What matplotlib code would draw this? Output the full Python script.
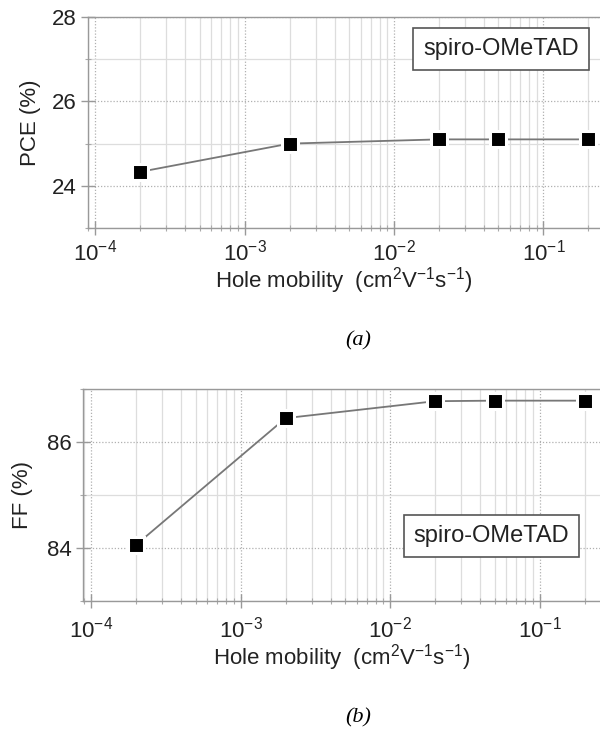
import numpy as np
import matplotlib
matplotlib.use("Agg")
import matplotlib.pyplot as plt
from matplotlib.ticker import MultipleLocator, LogLocator, NullFormatter

plt.rcParams['font.family'] = ['Liberation Sans', 'DejaVu Sans']
plt.rcParams['mathtext.fontset'] = 'custom'
plt.rcParams['mathtext.rm'] = 'Liberation Sans'
plt.rcParams['mathtext.it'] = 'Liberation Sans:italic'
plt.rcParams['axes.unicode_minus'] = False

# hole mobility (cm2 V-1 s-1)
mobility = [2e-4, 2e-3, 2e-2, 5e-2, 2e-1]
pce = [24.33, 25.0, 25.1, 25.1, 25.1]
ff = [84.06, 86.45, 86.77, 86.78, 86.78]

xlabel = "Hole mobility  (cm$^2$V$^{-1}$s$^{-1}$)"
legend_text = "spiro-OMeTAD"

fig = plt.figure(figsize=(6, 7.44), dpi=100)

# pixel geometry of the two panels
ax1 = fig.add_axes([88 / 600, (744 - 228) / 744, 512 / 600, 211 / 744])
ax2 = fig.add_axes([83 / 600, (744 - 601) / 744, 517 / 600, 212 / 744])


def style_axis(ax, xlim, ylim, xpad):
    ax.set_xscale('log')
    ax.set_xlim(*xlim)
    ax.set_ylim(*ylim)
    ax.xaxis.set_major_locator(LogLocator(base=10, numticks=10))
    ax.xaxis.set_minor_locator(LogLocator(base=10, subs=np.arange(2, 10), numticks=20))
    ax.xaxis.set_minor_formatter(NullFormatter())
    ax.yaxis.set_major_locator(MultipleLocator(2))
    ax.yaxis.set_minor_locator(MultipleLocator(1))
    ax.grid(which='major', color='#b0b0b0', linestyle=(0, (1, 1.5)), linewidth=0.9)
    ax.grid(which='minor', color='#dddddd', linestyle='-', linewidth=0.9)
    ax.set_axisbelow(True)
    for s in ['left', 'bottom', 'top']:
        ax.spines[s].set_color('#999999')
        ax.spines[s].set_linewidth(1.0)
    ax.spines['right'].set_visible(False)
    ax.tick_params(which='major', direction='inout', length=10, width=1,
                   color='#999999', labelsize=16, labelcolor='#222222', pad=3)
    ax.tick_params(which='minor', direction='inout', length=5, width=0.8,
                   color='#aaaaaa')
    ax.tick_params(axis='x', which='major', pad=xpad)
    ax.tick_params(axis='y', which='both', right=False)


def draw(ax, y):
    ax.plot(mobility, y, color='#777777', linewidth=1.3, zorder=3)
    ax.plot(mobility, y, linestyle='none', marker='s', markersize=11.5,
            markerfacecolor='black', markeredgecolor='white',
            markeredgewidth=2.2, zorder=4)


style_axis(ax1, (10 ** -4.047, 10 ** -0.622), (23, 28), 3)
draw(ax1, pce)
ax1.set_ylabel("PCE (%)", fontsize=16, color='#222222', labelpad=8)
ax1.set_xlabel(xlabel, fontsize=16, color='#222222', labelpad=0)
ax1.text(0.807, 0.848, legend_text, transform=ax1.transAxes, fontsize=17,
         ha='center', va='center', color='#222222',
         bbox=dict(boxstyle='square,pad=0.42', facecolor='white',
                   edgecolor='#555555', linewidth=1.2))

style_axis(ax2, (10 ** -4.054, 10 ** -0.596), (83, 87), 6)
draw(ax2, ff)
ax2.set_ylabel("FF (%)", fontsize=16, color='#222222', labelpad=10)
ax2.set_xlabel(xlabel, fontsize=16, color='#222222', labelpad=0)
ax2.text(0.790, 0.306, legend_text, transform=ax2.transAxes, fontsize=17,
         ha='center', va='center', color='#222222',
         bbox=dict(boxstyle='square,pad=0.42', facecolor='white',
                   edgecolor='#555555', linewidth=1.2))

fig.text(358 / 600, 1 - 341 / 744, "(a)", fontsize=16, family='Liberation Serif',
         style='italic', ha='center', va='center')
fig.text(358 / 600, 1 - 718 / 744, "(b)", fontsize=16, family='Liberation Serif',
         style='italic', ha='center', va='center')

fig.savefig("out.png", dpi=100)
